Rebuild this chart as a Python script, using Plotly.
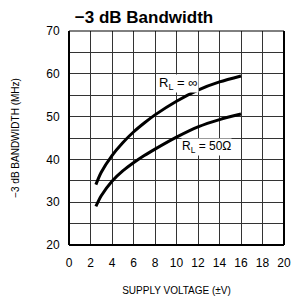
import plotly.graph_objects as go

supply_v = [2.5, 3, 4, 5, 6, 7, 8, 10, 12, 14, 16]
bw_rl_inf = [34.1, 37.0, 40.9, 43.9, 46.4, 48.5, 50.4, 53.6, 56.2, 58.1, 59.5]
bw_rl_50 = [29.0, 31.5, 34.9, 37.3, 39.2, 40.9, 42.4, 45.2, 47.6, 49.3, 50.6]

x_ticks = list(range(0, 21, 2))
y_ticks = [20, 30, 40, 50, 60, 70]

fig = go.Figure()
fig.add_trace(go.Scatter(x=supply_v, y=bw_rl_inf, mode="lines",
                         line=dict(color="black", width=3, shape="spline", smoothing=0.8), showlegend=False))
fig.add_trace(go.Scatter(x=supply_v, y=bw_rl_50, mode="lines",
                         line=dict(color="black", width=3, shape="spline", smoothing=0.8), showlegend=False))

font = "Liberation Sans, Arial, sans-serif"
fig.add_annotation(x=10.2, y=57.8, text="R<sub>L</sub> = ∞", showarrow=False,
                   font=dict(family=font, size=13, color="black"), bgcolor="white", borderpad=0)
fig.add_annotation(x=12.8, y=42.9, text="R<sub>L</sub> = 50Ω", showarrow=False,
                   font=dict(family=font, size=12, color="black"), bgcolor="white", borderpad=0)

# frame
fig.add_shape(type="line", xref="paper", yref="paper", x0=0, x1=0, y0=0, y1=1,
              line=dict(color="black", width=2))
fig.add_shape(type="line", xref="paper", yref="paper", x0=1, x1=1, y0=0, y1=1,
              line=dict(color="black", width=2))
fig.add_shape(type="line", xref="paper", yref="paper", x0=0, x1=1, y0=0, y1=0,
              line=dict(color="black", width=2))
fig.add_shape(type="line", xref="paper", yref="paper", x0=0, x1=1, y0=1, y1=1,
              line=dict(color="black", width=1))

fig.update_layout(
    width=291, height=302,
    margin=dict(l=69, r=7, t=31, b=57, autoexpand=False),
    paper_bgcolor="white", plot_bgcolor="white",
    font=dict(family=font, size=12, color="black"),
    title=dict(text="<b>−3 dB Bandwidth</b>", x=0.495, xanchor="center", y=0.945, yanchor="middle",
               font=dict(family=font, size=17, color="black")),
)
fig.update_xaxes(range=[0, 20], tickvals=x_ticks, showgrid=True, gridcolor="#333", gridwidth=1,
                 zeroline=False, showline=False, ticks="outside", ticklen=7,
                 tickcolor="rgba(0,0,0,0)", tickfont=dict(size=12), automargin=False,
                 title=dict(text="SUPPLY VOLTAGE (±V)", font=dict(size=10), standoff=17))
fig.update_yaxes(range=[20, 70], tickvals=y_ticks, showgrid=True, gridcolor="#333", gridwidth=1,
                 minor=dict(dtick=5, tick0=20, showgrid=True, gridcolor="#333", gridwidth=1),
                 zeroline=False, showline=False, ticks="outside", ticklen=6,
                 tickcolor="rgba(0,0,0,0)", tickfont=dict(size=12), automargin=False,
                 title=dict(text="−3 dB BANDWIDTH (MHz)", font=dict(size=10), standoff=24))

fig.write_html("out.html", config={"displayModeBar": False},
               post_script="document.body.style.margin='0';document.body.style.padding='0';")
